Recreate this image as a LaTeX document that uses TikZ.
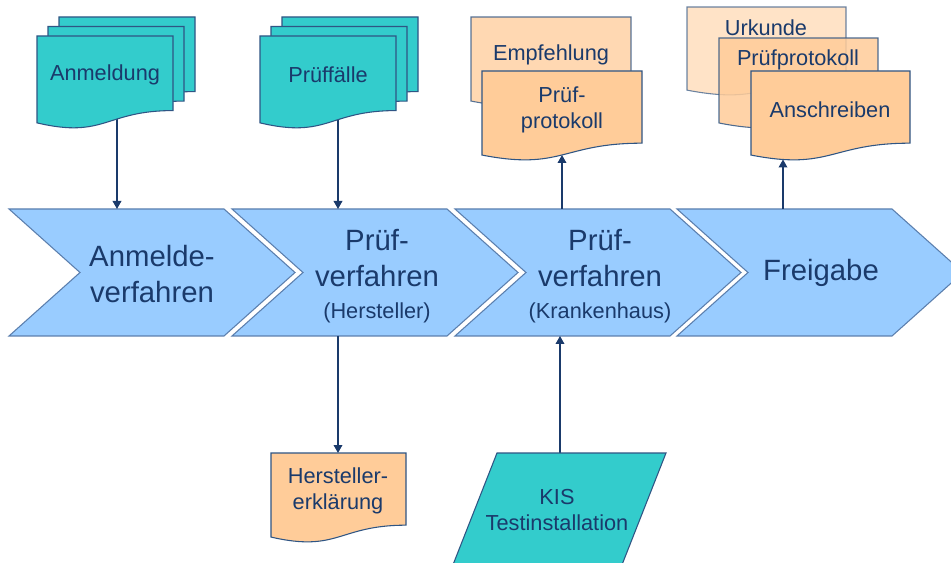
\documentclass[tikz,border=0pt]{standalone}
\usepackage{fontspec}
\setmainfont{Liberation Sans}
\usetikzlibrary{arrows.meta}
\definecolor{navy}{HTML}{1A3A6B}
\definecolor{chevfill}{HTML}{99CCFF}
\definecolor{chevline}{HTML}{5B7FAE}
\definecolor{tealfill}{HTML}{33CCCC}
\definecolor{orangefill}{HTML}{FFCC99}
\definecolor{docline}{HTML}{2F5584}
\newcommand\fbig{\fontsize{22}{27}\selectfont}
\newcommand\fsmall{\fontsize{16.3}{19.5}\selectfont}
% document shape: x-left, y-top, width, height
\newcommand\docshape[5][]{\path[#1] (#2,#3) -- ({#2+#4},#3) -- ({#2+#4},{#3+0.802*#5})
  .. controls ({#2+0.5*#4},{#3+0.802*#5}) and ({#2+0.5*#4},{#3+1.1075*#5}) .. (#2,{#3+0.934*#5}) -- cycle;}
% chevron: x-left
\newcommand\chevshape[1]{\path[chevstyle] (#1,209) -- ({#1+215},209) -- ({#1+286},272.5)
  -- ({#1+215},336) -- (#1,336) -- ({#1+71},272.5) -- cycle;}
\tikzset{
  chevstyle/.style={fill=chevfill, draw=chevline, line width=0.8pt, line join=miter},
  tealdoc/.style={fill=tealfill, draw=docline, line width=0.8pt},
  orangedoc/.style={fill=orangefill, draw=docline, line width=0.8pt},
  txt/.style={text=navy, font=\fsmall, align=center, inner sep=0pt},
  bigtxt/.style={text=navy, font=\fbig, align=center, inner sep=0pt},
  arr/.style={draw=navy, line width=1pt, -{Triangle[length=6pt,width=6.5pt]}},
}
\begin{document}
\begin{tikzpicture}[x=0.75pt,y=-0.75pt]
\useasboundingbox (0,0) rectangle (951,563);
\clip (0,0) rectangle (951,563);
\fill[white] (0,0) rectangle (951,563);

% chevrons
\chevshape{9}
\chevshape{232}
\chevshape{455}
\chevshape{677}
\node[bigtxt] (chev1) at (152,274.5) {Anmelde-\\verfahren};
\node[bigtxt] (chev2) at (377,276) {Prüf-\\verfahren\\[-3pt]{\fsmall (Hersteller)}};
\node[bigtxt] (chev3) at (600,276) {Prüf-\\verfahren\\[-3pt]{\fsmall (Krankenhaus)}};
\node[bigtxt] (chev4) at (821,273) {Freigabe};

% connector end points
\coordinate (anm-out) at (117,119);
\coordinate (chev1-in) at (117,209);
\coordinate (pf-out) at (338,119);
\coordinate (chev2-in) at (338,209);
\coordinate (chev3-out) at (562,209);
\coordinate (pp-in) at (562,155);
\coordinate (chev4-out) at (783,209);
\coordinate (an-in) at (783,159.5);
\coordinate (chev2-out) at (338,336);
\coordinate (he-in) at (338,453);
\coordinate (kis-out) at (560,453);
\coordinate (chev3-in) at (560,336);

\draw[arr] (anm-out) -- (chev1-in);
\draw[arr] (pf-out) -- (chev2-in);
\draw[arr] (chev3-out) -- (pp-in);
\draw[arr] (chev4-out) -- (an-in);
\draw[arr] (chev2-out) -- (he-in);
\draw[arr] (kis-out) -- (chev3-in);

% Anmeldung stack
\docshape[tealdoc]{59}{17}{136}{93}
\docshape[tealdoc]{48}{26.5}{136}{93}
\docshape[tealdoc]{37}{36}{136}{93}
\node[txt] (anm) at (105,75) {Anmeldung};

% Prueffaelle stack
\docshape[tealdoc]{282}{17}{136}{93}
\docshape[tealdoc]{271}{26.5}{136}{93}
\docshape[tealdoc]{260}{36}{136}{93}
\node[txt] (pf) at (328,75) {Prüffälle};

% Empfehlung / Pruefprotokoll
\docshape[orangedoc, fill opacity=0.75, draw opacity=0.8]{471}{17}{160}{90}
\node[txt] (emp) at (551,55) {Empfehlung};
\docshape[orangedoc]{482}{71}{160}{90}
\node[txt] (pp) at (562,110) {Prüf-\\protokoll};

% Urkunde / Pruefprotokoll / Anschreiben
\docshape[orangedoc, fill opacity=0.55, draw opacity=0.7]{687}{7}{159}{89}
\node[txt] (urk) at (766,28) {Urkunde};
\docshape[orangedoc, fill opacity=0.85, draw opacity=0.85]{719}{38}{159}{91}
\node[txt] (pp2) at (798,60) {Prüfprotokoll};
\docshape[orangedoc]{751}{71}{159}{90}
\node[txt] (an) at (830,110) {Anschreiben};

% Herstellererklaerung
\docshape[orangedoc]{271}{453}{135}{90}
\node[txt] (he) at (338,491) {Hersteller-\\erklärung};

% KIS Testinstallation
\path[tealdoc] (497,453) -- (666,453) -- (616,580) -- (447,580) -- cycle;
\node[txt] (kis) at (557,510) {KIS\\Testinstallation};
\end{tikzpicture}
\end{document}
